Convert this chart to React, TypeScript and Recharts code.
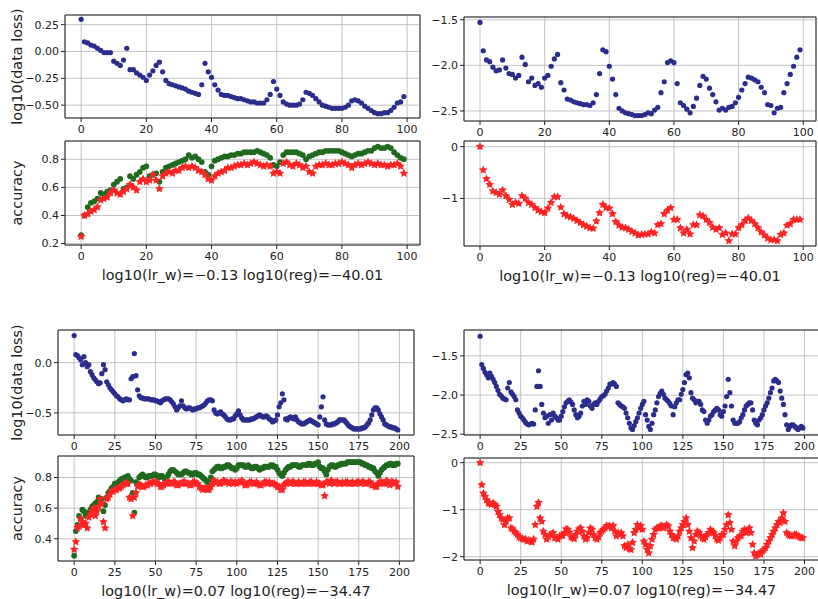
import React from 'react';
import { ScatterChart, Scatter, XAxis, YAxis, CartesianGrid, ReferenceArea } from 'recharts';

const FONT = '"DejaVu Sans", Verdana, sans-serif';
const BLUE = '#2b2d8c';
const GREEN = '#1f6a1f';
const RED = '#ff2424';

// ---- values (in hundredths) ----
// top row: lr_w=-0.13, reg=-40.01, 100 epochs
const tlLoss = [
  30, 9, 8, 6, 5, 3, 1, -1, -1, -1,
  -9, -11, -13, -8, 3, -17, -17, -20, -22, -24,
  -27, -22, -18, -13, -10, -19, -27, -30, -31, -32,
  -33, -34, -35, -37, -38, -39, -40, -31, -11, -19,
  -24, -31, -36, -40, -41, -41, -42, -43, -44, -44,
  -45, -46, -47, -47, -48, -48, -48, -45, -40, -28,
  -35, -41, -47, -49, -50, -50, -50, -49, -45, -38,
  -39, -41, -44, -47, -50, -51, -52, -53, -53, -53,
  -53, -52, -50, -46, -45, -46, -48, -51, -53, -55,
  -57, -58, -58, -57, -57, -55, -52, -48, -47, -42,
];
const tlTrainAcc = [
  26, 40, 46, 49, 50, 52, 56, 55, 57, 58,
  62, 64, 66, 59, 60, 68, 66, 69, 71, 74,
  75, 68, 69, 70, 64, 71, 74, 75, 76, 77,
  78, 79, 80, 83, 81, 82, 80, 78, 71, 69,
  75, 79, 80, 81, 82, 82, 83, 83, 84, 84,
  85, 85, 85, 85, 86, 85, 84, 83, 81, 76,
  75, 78, 83, 85, 85, 85, 85, 84, 83, 80,
  82, 83, 84, 85, 85, 86, 86, 86, 86, 86,
  85, 84, 83, 82, 83, 84, 84, 85, 86, 86,
  88, 89, 88, 88, 89, 88, 85, 83, 81, 80,
];
const tlValAcc = [
  25, 40, 41, 43, 44, 46, 51, 52, 53, 56,
  58, 56, 55, 57, 59, 62, 60, 58, 64, 66,
  64, 65, 69, 65, 59, 68, 70, 71, 70, 72,
  72, 74, 75, 74, 75, 74, 72, 71, 69, 66,
  65, 68, 70, 71, 72, 74, 74, 75, 76, 76,
  77, 76, 77, 78, 77, 76, 75, 76, 75, 70,
  71, 70, 77, 78, 76, 75, 77, 76, 74, 75,
  71, 70, 75, 76, 76, 77, 76, 76, 77, 77,
  78, 77, 76, 74, 76, 77, 76, 77, 78, 77,
  76, 77, 76, 76, 75, 76, 76, 77, 75, 70,
];
const trLoss = [
  -153, -184, -194, -196, -202, -206, -205, -194, -203, -209,
  -210, -214, -211, -191, -199, -218, -214, -222, -220, -224,
  -214, -211, -201, -193, -188, -219, -227, -237, -238, -240,
  -241, -242, -243, -243, -244, -241, -232, -209, -183, -185,
  -201, -215, -232, -247, -250, -252, -253, -254, -255, -255,
  -255, -254, -252, -253, -249, -246, -230, -218, -197, -195,
  -197, -220, -241, -244, -248, -252, -245, -236, -222, -212,
  -215, -225, -232, -240, -249, -247, -249, -246, -245, -241,
  -235, -227, -220, -213, -214, -216, -218, -224, -230, -243,
  -244, -252, -247, -246, -230, -220, -210, -201, -191, -183,
];
const trAcc = [
  0, -45, -62, -73, -86, -89, -92, -84, -95, -102,
  -112, -108, -110, -95, -100, -108, -112, -118, -123, -126,
  -128, -119, -108, -97, -97, -117, -130, -134, -136, -139,
  -143, -147, -151, -154, -157, -158, -144, -128, -112, -118,
  -119, -130, -145, -152, -156, -157, -160, -164, -167, -171,
  -170, -169, -169, -165, -167, -151, -149, -130, -123, -118,
  -141, -141, -157, -167, -160, -169, -151, -151, -132, -134,
  -141, -147, -156, -160, -157, -170, -167, -182, -169, -169,
  -157, -151, -143, -138, -143, -149, -157, -165, -171, -177,
  -180, -180, -182, -170, -167, -152, -149, -141, -141, -141,
];
// bottom row: lr_w=0.07, reg=-34.47, 200 epochs
const blLoss = [
  27, 8, 7, 5, 3, -2, 6, 0, -4, -2,
  -9, -12, -15, -17, -19, -21, -20, -11, -2, -7,
  -19, -22, -25, -27, -29, -31, -33, -34, -36, -37,
  -38, -37, -36, -37, -37, -16, -14, 9, -13, -27,
  -33, -35, -35, -36, -36, -36, -36, -37, -37, -37,
  -38, -38, -39, -40, -38, -37, -36, -36, -36, -37,
  -39, -41, -44, -47, -45, -43, -38, -43, -45, -46,
  -45, -45, -46, -47, -46, -46, -45, -45, -44, -43,
  -42, -40, -38, -37, -37, -38, -47, -50, -51, -50,
  -49, -51, -52, -54, -56, -57, -57, -56, -56, -53,
  -51, -48, -52, -55, -57, -57, -57, -57, -57, -56,
  -56, -55, -54, -53, -52, -53, -54, -54, -53, -54,
  -56, -57, -59, -58, -57, -52, -44, -40, -31, -37,
  -56, -57, -55, -54, -55, -56, -54, -57, -59, -60,
  -61, -61, -60, -59, -58, -57, -58, -59, -60, -61,
  -62, -54, -44, -34, -57, -61, -62, -62, -62, -61,
  -61, -60, -59, -57, -57, -57, -57, -59, -61, -63,
  -64, -65, -66, -66, -66, -66, -66, -65, -65, -64,
  -62, -60, -57, -52, -47, -45, -45, -47, -51, -54,
  -57, -61, -62, -63, -64, -64, -65, -65, -66, -67,
];
const blTrainAcc = [
  29, 45, 49, 55, 53, 59, 58, 55, 56, 57,
  59, 61, 62, 63, 64, 67, 65, 66, 58, 62,
  67, 70, 71, 73, 74, 76, 76, 77, 78, 79,
  79, 80, 80, 81, 79, 78, 70, 57, 77, 76,
  80, 81, 82, 81, 80, 80, 81, 81, 81, 82,
  82, 81, 80, 81, 81, 80, 78, 80, 82, 84,
  85, 85, 84, 83, 82, 82, 82, 83, 84, 84,
  83, 83, 82, 82, 83, 83, 82, 82, 81, 80,
  79, 78, 77, 77, 80, 84, 85, 86, 87, 87,
  86, 86, 87, 87, 88, 88, 87, 86, 86, 85,
  86, 88, 88, 88, 88, 87, 87, 88, 87, 86,
  86, 87, 87, 86, 85, 86, 86, 87, 87, 87,
  87, 88, 88, 87, 87, 85, 83, 82, 81, 83,
  85, 86, 87, 87, 88, 88, 88, 88, 87, 87,
  88, 88, 88, 88, 89, 89, 88, 88, 89, 89,
  90, 87, 86, 86, 84, 82, 85, 87, 88, 88,
  87, 87, 88, 88, 89, 89, 89, 89, 90, 90,
  90, 90, 90, 90, 90, 90, 90, 89, 89, 88,
  88, 87, 87, 86, 86, 84, 83, 81, 83, 85,
  86, 87, 88, 88, 89, 89, 88, 88, 89, 89,
];
const blValAcc = [
  33, 38, 47, 48, 53, 51, 49, 50, 47, 54,
  56, 58, 60, 55, 58, 61, 66, 63, 51, 47,
  66, 67, 69, 71, 71, 72, 72, 73, 73, 74,
  75, 76, 76, 76, 67, 66, 55, 67, 70, 74,
  75, 75, 74, 74, 75, 75, 76, 76, 77, 77,
  77, 76, 76, 74, 74, 75, 76, 77, 77, 76,
  76, 77, 77, 75, 75, 76, 76, 77, 77, 76,
  76, 75, 75, 77, 77, 76, 76, 74, 73, 72,
  73, 73, 72, 72, 74, 76, 78, 77, 77, 76,
  76, 77, 78, 77, 77, 76, 77, 77, 76, 77,
  76, 77, 77, 78, 77, 75, 75, 76, 77, 77,
  76, 76, 77, 76, 75, 75, 76, 77, 77, 76,
  77, 76, 76, 76, 75, 74, 74, 72, 72, 75,
  76, 77, 77, 76, 77, 77, 76, 76, 77, 76,
  76, 77, 77, 76, 76, 77, 77, 76, 76, 77,
  76, 76, 75, 75, 68, 77, 77, 76, 78, 77,
  76, 77, 77, 76, 76, 77, 76, 77, 77, 76,
  76, 77, 76, 76, 77, 77, 76, 77, 77, 76,
  76, 77, 77, 75, 75, 74, 74, 76, 77, 77,
  76, 76, 78, 77, 75, 77, 77, 76, 77, 74,
];
const brLoss = [
  -125, -161, -166, -171, -174, -178, -172, -176, -180, -184,
  -189, -194, -199, -201, -204, -205, -206, -191, -184, -196,
  -199, -202, -206, -219, -223, -227, -229, -232, -235, -237,
  -238, -237, -236, -237, -219, -189, -169, -189, -212, -223,
  -229, -227, -236, -225, -232, -223, -227, -229, -232, -232,
  -227, -221, -215, -210, -208, -206, -209, -212, -219, -225,
  -229, -227, -223, -214, -208, -212, -206, -208, -214, -217,
  -212, -210, -212, -208, -205, -202, -201, -199, -195, -191,
  -186, -186, -184, -186, -189, -210, -212, -214, -215, -217,
  -223, -229, -236, -242, -244, -239, -234, -229, -223, -217,
  -212, -208, -225, -232, -240, -244, -236, -225, -219, -210,
  -202, -198, -195, -199, -204, -206, -208, -211, -214, -225,
  -215, -210, -206, -206, -199, -193, -184, -174, -172, -178,
  -197, -204, -206, -210, -208, -208, -212, -219, -221, -232,
  -236, -232, -227, -225, -221, -219, -217, -219, -225, -227,
  -221, -214, -202, -180, -197, -214, -232, -236, -236, -236,
  -234, -229, -225, -219, -214, -212, -210, -210, -219, -232,
  -236, -238, -232, -229, -225, -219, -214, -210, -204, -197,
  -191, -182, -180, -182, -184, -195, -204, -212, -225, -238,
  -244, -240, -238, -238, -240, -242, -244, -242, -240, -242,
];
const brAcc = [
  0, -47, -65, -72, -79, -86, -87, -89, -86, -89,
  -93, -104, -111, -118, -121, -132, -125, -118, -118, -139,
  -141, -146, -149, -153, -158, -160, -162, -163, -163, -167,
  -165, -167, -169, -163, -132, -93, -85, -118, -125, -146,
  -153, -163, -158, -153, -153, -149, -160, -160, -163, -156,
  -155, -155, -149, -141, -142, -148, -158, -160, -162, -153,
  -146, -141, -139, -146, -156, -163, -160, -149, -139, -142,
  -153, -160, -163, -158, -149, -146, -142, -139, -134, -135,
  -135, -139, -134, -146, -156, -149, -153, -149, -156, -177,
  -181, -174, -183, -185, -170, -149, -142, -132, -139, -134,
  -142, -167, -174, -185, -192, -177, -163, -153, -142, -139,
  -139, -135, -134, -139, -135, -132, -135, -146, -153, -160,
  -160, -163, -156, -146, -139, -132, -125, -118, -132, -146,
  -160, -181, -167, -153, -146, -149, -155, -160, -163, -158,
  -153, -149, -142, -146, -149, -155, -163, -165, -160, -153,
  -153, -142, -132, -111, -128, -142, -167, -177, -167, -160,
  -156, -155, -146, -142, -149, -146, -139, -149, -174, -192,
  -199, -195, -193, -195, -188, -185, -181, -174, -167, -160,
  -153, -146, -139, -132, -125, -128, -118, -107, -125, -149,
  -153, -155, -156, -155, -153, -153, -156, -158, -160, -160,
];

const xTicksTop = [0, 20, 40, 60, 80, 100];
const xTicksBottom = [0, 25, 50, 75, 100, 125, 150, 175, 200];
const lossLabel = 'log10(data loss)';
const accLabel = 'accuracy';
const topTitle = 'log10(lr_w)=\u22120.13 log10(reg)=\u221240.01';
const bottomTitle = 'log10(lr_w)=0.07 log10(reg)=\u221234.47';

const toPoints = (vals: number[]) => vals.map((v, i) => ({ x: i, y: v / 100 }));

const fmt = (dec: number) => (v: number) =>
  (v < -1e-9 ? '\u2212' : '') + Math.abs(v).toFixed(dec);

const dotShape = (color: string, r: number) => (p: any) =>
  p.cx == null ? <g /> : <circle cx={p.cx} cy={p.cy} r={r} fill={color} />;

const starShape = (color: string) => (p: any) => {
  if (p.cx == null) return <g />;
  const R = 4.5;
  const r = R * 0.5;
  let d = '';
  for (let k = 0; k < 10; k++) {
    const rad = k % 2 === 0 ? R : r;
    const a = -Math.PI / 2 + (k * Math.PI) / 5;
    d += (k === 0 ? 'M' : 'L') + (p.cx + rad * Math.cos(a)).toFixed(2) + ',' + (p.cy + rad * Math.sin(a)).toFixed(2);
  }
  return <path d={d + 'Z'} fill={color} />;
};

type Series = { data: { x: number; y: number }[]; kind: 'dot' | 'bigdot' | 'star'; color: string };

type PanelProps = {
  plotLeft: number;
  plotTop: number;
  plotW: number;
  plotH: number;
  xDomain: [number, number];
  yDomain: [number, number];
  xTicks: number[];
  yTicks: number[];
  yDec: number;
  series: Series[];
  yLabel?: string;
  xLabel?: string;
};

function Panel(props: PanelProps) {
  const { plotLeft, plotTop, plotW, plotH, xDomain, yDomain, xTicks, yTicks, yDec, series, yLabel, xLabel } = props;
  const YW = 60;
  const M = 6;
  const xh = xLabel ? 42 : 22;
  const left = plotLeft - YW;
  const tickStyle = { fill: '#222', fontSize: 11, fontFamily: FONT };
  return (
    <div style={{ position: 'absolute', left, top: plotTop - M }}>
      <ScatterChart width={YW + plotW + M} height={M + plotH + xh} margin={{ top: M, right: M, bottom: 0, left: 0 }}>
        <CartesianGrid stroke="#bcbcbc" strokeWidth={0.9} />
        <XAxis
          type="number"
          dataKey="x"
          domain={xDomain}
          ticks={xTicks}
          interval={0}
          allowDataOverflow
          height={xh}
          axisLine={false}
          tickLine={{ stroke: '#222' }}
          tickSize={4}
          tickMargin={3}
          tick={tickStyle}
          label={
            xLabel
              ? { value: xLabel, position: 'insideBottom', offset: 7, fill: '#222', fontSize: 14.4, fontFamily: FONT }
              : undefined
          }
        />
        <YAxis
          type="number"
          dataKey="y"
          domain={yDomain}
          ticks={yTicks}
          interval={0}
          allowDataOverflow
          width={YW}
          axisLine={false}
          tickLine={{ stroke: '#222' }}
          tickSize={4}
          tickMargin={2}
          tick={tickStyle}
          tickFormatter={fmt(yDec)}
          label={
            yLabel
              ? {
                  value: yLabel,
                  angle: -90,
                  position: 'insideLeft',
                  offset: 17 - left,
                  fill: '#222',
                  fontSize: 14.4,
                  fontFamily: FONT,
                  style: { textAnchor: 'middle' },
                }
              : undefined
          }
        />
        <ReferenceArea
          x1={xDomain[0]}
          x2={xDomain[1]}
          y1={yDomain[0]}
          y2={yDomain[1]}
          ifOverflow="visible"
          fill="none"
          fillOpacity={0}
          stroke="#222"
          strokeWidth={1}
        />
        {series.map((s, i) => (
          <Scatter
            key={i}
            data={s.data}
            isAnimationActive={false}
            shape={
              s.kind === 'star'
                ? starShape(s.color)
                : dotShape(s.color, s.kind === 'bigdot' ? 2.9 : 2.6)
            }
          />
        ))}
      </ScatterChart>
    </div>
  );
}

export default function App() {
  const topX: [number, number] = [-4.95, 103.95];
  const botX: [number, number] = [-9.95, 208.95];
  return (
    <div
      style={{
        position: 'absolute',
        left: 0,
        top: 0,
        width: 818,
        height: 599,
        overflow: 'hidden',
        background: '#fff',
        fontFamily: FONT,
      }}
    >
      <Panel
        plotLeft={65} plotTop={15} plotW={355} plotH={103}
        xDomain={topX} yDomain={[-0.62, 0.34]} xTicks={xTicksTop} yTicks={[-0.5, -0.25, 0, 0.25]} yDec={2}
        series={[{ data: toPoints(tlLoss), kind: 'dot', color: BLUE }]}
        yLabel={lossLabel}
      />
      <Panel
        plotLeft={65} plotTop={141} plotW={355} plotH={104}
        xDomain={topX} yDomain={[0.19, 0.93]} xTicks={xTicksTop} yTicks={[0.2, 0.4, 0.6, 0.8]} yDec={1}
        series={[
          { data: toPoints(tlTrainAcc), kind: 'bigdot', color: GREEN },
          { data: toPoints(tlValAcc), kind: 'star', color: RED },
        ]}
        yLabel={accLabel}
        xLabel={topTitle}
      />
      <Panel
        plotLeft={464} plotTop={17} plotW={352} plotH={104}
        xDomain={topX} yDomain={[-2.61, -1.47]} xTicks={xTicksTop} yTicks={[-2.5, -2, -1.5]} yDec={1}
        series={[{ data: toPoints(trLoss), kind: 'dot', color: BLUE }]}
      />
      <Panel
        plotLeft={464} plotTop={141} plotW={352} plotH={105}
        xDomain={topX} yDomain={[-1.92, 0.11]} xTicks={xTicksTop} yTicks={[-1, 0]} yDec={0}
        series={[{ data: toPoints(trAcc), kind: 'star', color: RED }]}
        xLabel={topTitle}
      />
      <Panel
        plotLeft={58} plotTop={330} plotW={356} plotH={105}
        xDomain={botX} yDomain={[-0.72, 0.325]} xTicks={xTicksBottom} yTicks={[-0.5, 0]} yDec={1}
        series={[{ data: toPoints(blLoss), kind: 'dot', color: BLUE }]}
        yLabel={lossLabel}
      />
      <Panel
        plotLeft={58} plotTop={456} plotW={356} plotH={105}
        xDomain={botX} yDomain={[0.255, 0.94]} xTicks={xTicksBottom} yTicks={[0.4, 0.6, 0.8]} yDec={1}
        series={[
          { data: toPoints(blTrainAcc), kind: 'bigdot', color: GREEN },
          { data: toPoints(blValAcc), kind: 'star', color: RED },
        ]}
        yLabel={accLabel}
        xLabel={bottomTitle}
      />
      <Panel
        plotLeft={464} plotTop={330} plotW={355} plotH={105}
        xDomain={botX} yDomain={[-2.51, -1.17]} xTicks={xTicksBottom} yTicks={[-2.5, -2, -1.5]} yDec={1}
        series={[{ data: toPoints(brLoss), kind: 'dot', color: BLUE }]}
      />
      <Panel
        plotLeft={464} plotTop={458} plotW={355} plotH={102}
        xDomain={botX} yDomain={[-2.07, 0.1]} xTicks={xTicksBottom} yTicks={[-2, -1, 0]} yDec={0}
        series={[{ data: toPoints(brAcc), kind: 'star', color: RED }]}
        xLabel={bottomTitle}
      />
    </div>
  );
}
